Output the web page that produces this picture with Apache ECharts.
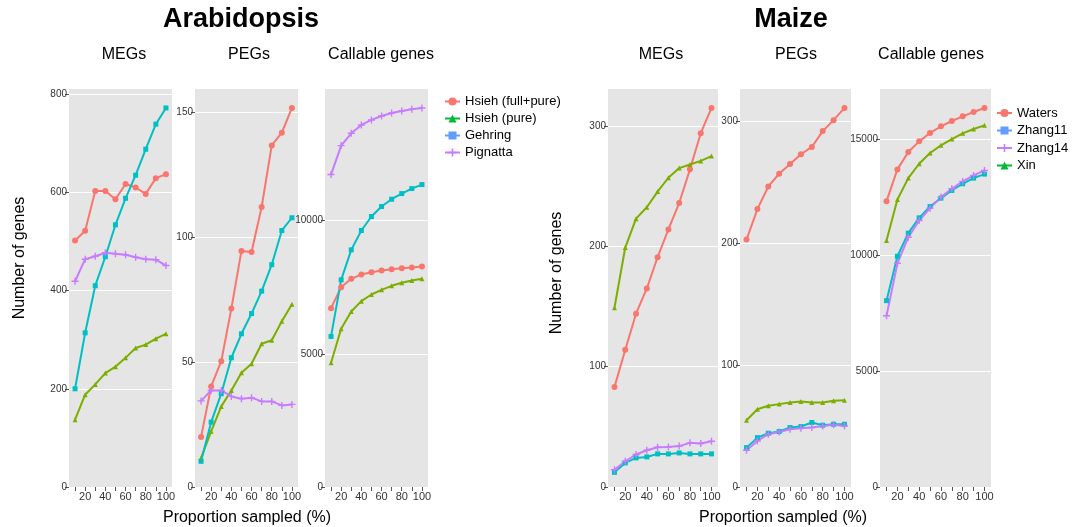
<!DOCTYPE html>
<html>
<head>
<meta charset="utf-8">
<script src="https://cdn.jsdelivr.net/npm/echarts@6/dist/echarts.min.js"></script>
<style>
html,body{margin:0;padding:0;background:#fff;}
#chart{width:1084px;height:527px;}
</style>
</head>
<body>
<div id="chart"></div>
<script>
// ---- data ----
const proportions = [10,20,30,40,50,60,70,80,90,100];
const xTickValues = [10,20,30,40,50,60,70,80,90,100];
const xLabelValues = [20,40,60,80,100];

const araNames = ['Hsieh (full+pure)','Hsieh (pure)','Gehring','Pignatta'];
const maizeNames = ['Waters','Zhang11','Zhang14','Xin'];

// Arabidopsis MEGs
const araMEG_hsiehFull = [502,522,603,603,586,617,610,597,629,637];
const araMEG_hsiehPure = [137,188,209,232,245,263,283,290,302,312];
const araMEG_gehring   = [200,314,410,469,534,588,635,688,739,772];
const araMEG_pignatta  = [419,464,470,477,475,473,468,464,463,451];
// Arabidopsis PEGs
const araPEG_hsiehFull = [20,40.3,50.4,71.5,94.6,94.2,112.2,136.9,142,151.9];
const araPEG_hsiehPure = [11.6,22.3,32.3,38.7,45.8,49.4,57.4,58.8,66.4,73.2];
const araPEG_gehring   = [10.3,26,37.4,51.8,61.4,69.5,78.5,89.1,102.8,107.9];
const araPEG_pignatta  = [34.5,38.7,38.7,36.3,35.4,35.8,34.3,34.3,32.7,33.1];
// Arabidopsis callable genes
const araCall_hsiehFull = [6712,7500,7812,7975,8062,8125,8175,8212,8237,8275];
const araCall_hsiehPure = [4662,5937,6587,6975,7225,7400,7550,7662,7750,7812];
const araCall_gehring   = [5650,7775,8900,9625,10150,10525,10800,11012,11200,11350];
const araCall_pignatta  = [11725,12812,13275,13587,13775,13925,14037,14112,14175,14225];

// Maize MEGs
const mMEG_waters  = [83,114,144,165,191,214,236,264,294,315];
const mMEG_zhang11 = [12.2,20,24.2,25,27.5,27.5,28.3,27.5,27.5,27.5];
const mMEG_zhang14 = [14.4,21.4,27,30.5,33,33.3,34,36.7,36.1,38];
const mMEG_xin     = [149,199,223,232.5,245.5,257,265,268,271,275];
// Maize PEGs
const mPEG_waters  = [203,228,246.6,257,265,273,279,292,301,311];
const mPEG_zhang11 = [32.3,40.5,44.1,45.5,48.8,49.6,52.9,50.7,51.5,51.5];
const mPEG_zhang14 = [30.1,37.8,43.3,45.2,47.4,48.2,48.8,50.1,51,50.1];
const mPEG_xin     = [54.8,63.8,66.6,68,69.3,70.1,69.3,69.3,70.7,71.2];
// Maize callable genes
const mCall_waters  = [12346,13717,14467,14928,15289,15577,15808,16010,16198,16371];
const mCall_zhang11 = [8048,9967,10962,11625,12116,12477,12808,13097,13342,13515];
const mCall_zhang14 = [7399,9664,10789,11510,12044,12520,12880,13198,13457,13674];
const mCall_xin     = [10645,12419,13342,13962,14424,14755,15029,15274,15462,15620];

// y tick labels per panel
const yTicksAraMEG = [0,200,400,600,800];
const yTicksAraPEG = [0,50,100,150];
const yTicksAraCall = [0,5000,10000];
const yTicksMMEG = [0,100,200,300];
const yTicksMPEG = [0,100,200,300];
const yTicksMCall = [0,5000,10000,15000];

// ---- styles ----
const FONT = '"Liberation Sans", Arial, sans-serif';
const RED = '#F8766D', OLIVE = '#7CAE00', TEAL = '#00BFC4', PURPLE = '#C77CFF';
const LEG_GREEN = '#00BA38', LEG_BLUE = '#619CFF';
const PLUS = 'path://M4,0L6,0L6,4L10,4L10,6L6,6L6,10L4,10L4,6L0,6L0,4L4,4Z';
const SYM = {circle:['circle',6], tri:['triangle',5], square:['rect',5], plus:[PLUS,7]};

const panels = [
  {left:69, width:103, ticks:yTicksAraMEG, series:[
    [araNames[0], araMEG_hsiehFull, RED, 'circle'],
    [araNames[1], araMEG_hsiehPure, OLIVE, 'tri'],
    [araNames[2], araMEG_gehring, TEAL, 'square'],
    [araNames[3], araMEG_pignatta, PURPLE, 'plus']]},
  {left:195, width:103, ticks:yTicksAraPEG, series:[
    [araNames[0], araPEG_hsiehFull, RED, 'circle'],
    [araNames[1], araPEG_hsiehPure, OLIVE, 'tri'],
    [araNames[2], araPEG_gehring, TEAL, 'square'],
    [araNames[3], araPEG_pignatta, PURPLE, 'plus']]},
  {left:325, width:103, ticks:yTicksAraCall, series:[
    [araNames[0], araCall_hsiehFull, RED, 'circle'],
    [araNames[1], araCall_hsiehPure, OLIVE, 'tri'],
    [araNames[2], araCall_gehring, TEAL, 'square'],
    [araNames[3], araCall_pignatta, PURPLE, 'plus']]},
  {left:608, width:110, ticks:yTicksMMEG, series:[
    [maizeNames[0], mMEG_waters, RED, 'circle'],
    [maizeNames[1], mMEG_zhang11, TEAL, 'square'],
    [maizeNames[2], mMEG_zhang14, PURPLE, 'plus'],
    [maizeNames[3], mMEG_xin, OLIVE, 'tri']]},
  {left:740, width:111, ticks:yTicksMPEG, series:[
    [maizeNames[0], mPEG_waters, RED, 'circle'],
    [maizeNames[1], mPEG_zhang11, TEAL, 'square'],
    [maizeNames[2], mPEG_zhang14, PURPLE, 'plus'],
    [maizeNames[3], mPEG_xin, OLIVE, 'tri']]},
  {left:880, width:111, ticks:yTicksMCall, series:[
    [maizeNames[0], mCall_waters, RED, 'circle'],
    [maizeNames[1], mCall_zhang11, TEAL, 'square'],
    [maizeNames[2], mCall_zhang14, PURPLE, 'plus'],
    [maizeNames[3], mCall_xin, OLIVE, 'tri']]}
];

const grids = [], xAxes = [], yAxes = [], series = [];
panels.forEach((p, i) => {
  grids.push({show:true, left:p.left, width:p.width, top:89, height:398,
    backgroundColor:'#E5E5E5', borderWidth:0});
  xAxes.push({type:'value', gridIndex:i, min:4, max:106,
    axisLine:{show:false},
    axisTick:{show:true, length:4, lineStyle:{color:'#555', width:1}, customValues:xTickValues},
    axisLabel:{show:true, customValues:xLabelValues, color:'#333', fontSize:11, fontFamily:FONT, margin:4,
      formatter: v => String(v)},
    splitLine:{show:false}});
  let mx = 0;
  p.series.forEach(s => { mx = Math.max(mx, ...s[1]); });
  yAxes.push({type:'value', gridIndex:i, min:0, max:mx*1.05,
    axisLine:{show:false},
    axisTick:{show:true, length:4, lineStyle:{color:'#555', width:1}, customValues:p.ticks},
    axisLabel:{show:true, customValues:p.ticks, color:'#333', fontSize:10, fontFamily:FONT, margin:2,
      formatter: v => String(v)},
    splitLine:{show:true, lineStyle:{color:'#FFFFFF', width:1.2}}});
  p.series.forEach(s => {
    const sym = SYM[s[3]];
    series.push({type:'line', name:s[0], xAxisIndex:i, yAxisIndex:i,
      data: proportions.map((x, k) => [x, s[1][k]]),
      symbol:sym[0], symbolSize:sym[1], showSymbol:true,
      lineStyle:{color:s[2], width:2}, itemStyle:{color:s[2]},
      animation:false, emphasis:{disabled:true}});
  });
});

const legendColors = {
  'Hsieh (full+pure)':RED, 'Hsieh (pure)':LEG_GREEN, 'Gehring':LEG_BLUE, 'Pignatta':PURPLE,
  'Waters':RED, 'Zhang11':LEG_BLUE, 'Zhang14':PURPLE, 'Xin':LEG_GREEN
};
function legendData(names){
  return names.map(n => ({name:n, itemStyle:{color:legendColors[n]}, lineStyle:{color:legendColors[n]}}));
}

function txt(x, y, t, size, weight, rot){
  return {type:'text', x:x, y:y, rotation: rot||0,
    style:{text:t, fontSize:size, fontWeight:weight||'normal', fontFamily:FONT, fill:'#000',
      textAlign:'center', textVerticalAlign:'middle'}};
}

const option = {
  backgroundColor:'#fff',
  animation:false,
  grid:grids, xAxis:xAxes, yAxis:yAxes, series:series,
  legend:[
    {orient:'vertical', left:439, top:89.5, itemWidth:15, itemHeight:10, itemGap:3,
      textStyle:{fontSize:13, fontFamily:FONT, color:'#000', lineHeight:14},
      data:legendData(araNames), selectedMode:false},
    {orient:'vertical', left:991, top:101, itemWidth:15, itemHeight:10, itemGap:3.5,
      textStyle:{fontSize:13, fontFamily:FONT, color:'#000', lineHeight:14},
      data:legendData(maizeNames), selectedMode:false}
  ],
  graphic:[
    txt(241, 20, 'Arabidopsis', 27, 'bold'),
    txt(791, 20, 'Maize', 27, 'bold'),
    txt(124, 55, 'MEGs', 16),
    txt(249, 55, 'PEGs', 16),
    txt(381, 55, 'Callable genes', 16),
    txt(661, 55, 'MEGs', 16),
    txt(796, 55, 'PEGs', 16),
    txt(931, 55, 'Callable genes', 16),
    txt(20, 258, 'Number of genes', 16, 'normal', Math.PI/2),
    txt(557, 273, 'Number of genes', 16, 'normal', Math.PI/2),
    txt(247, 518, 'Proportion sampled (%)', 16),
    txt(783, 518, 'Proportion sampled (%)', 16)
  ]
};

const chart = echarts.init(document.getElementById('chart'), null, {renderer:'canvas'});
chart.setOption(option);
</script>
</body>
</html>
